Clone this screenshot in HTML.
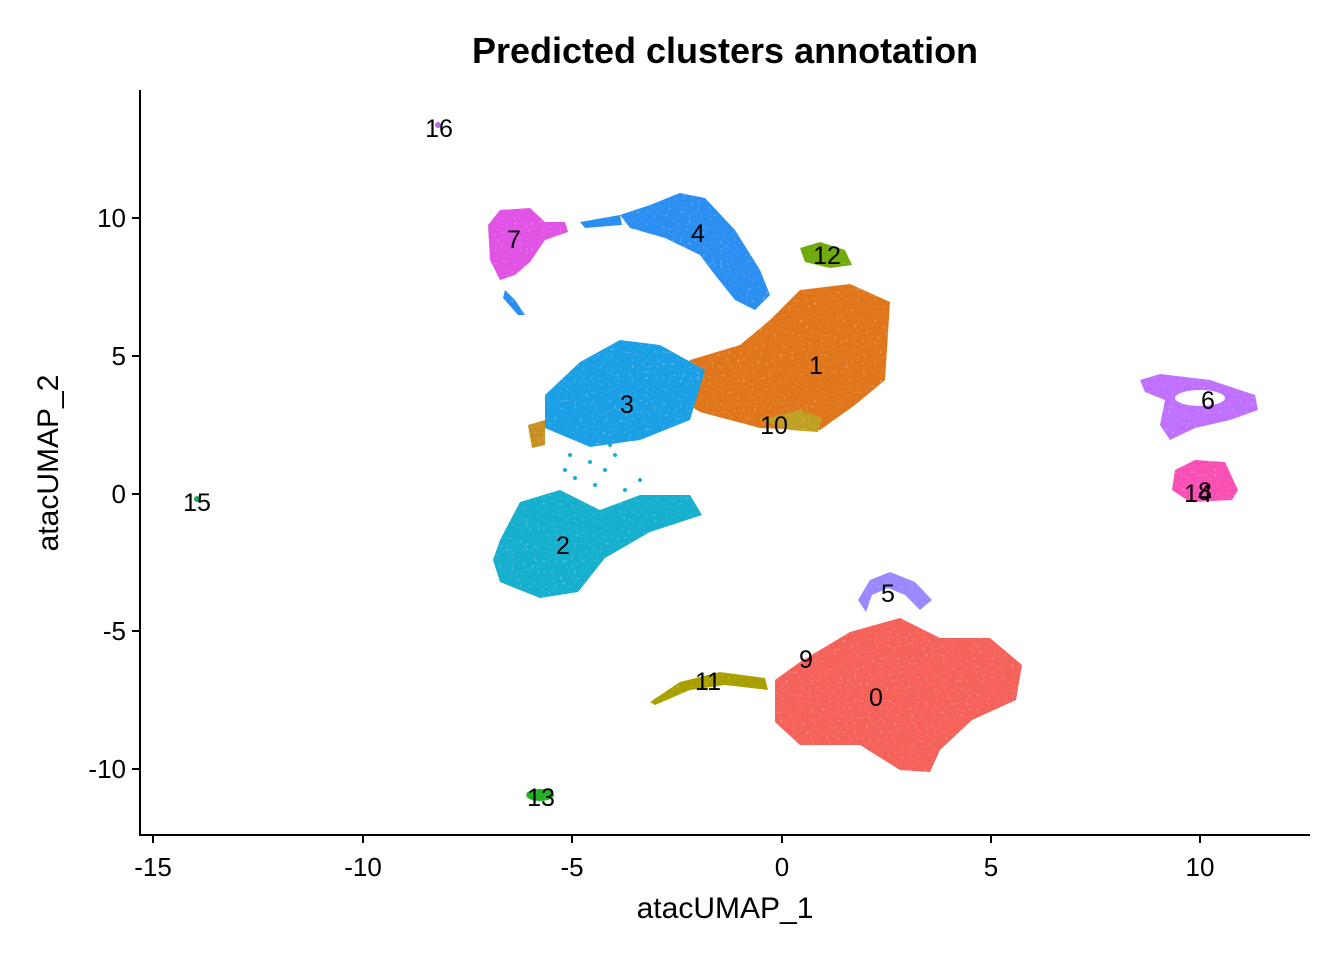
<!DOCTYPE html>
<html><head><meta charset="utf-8"><style>
html,body{margin:0;padding:0;background:#fff;}
svg{display:block;font-family:"Liberation Sans",Arial,sans-serif;}
</style></head><body>
<svg width="1344" height="960" viewBox="0 0 1344 960" xmlns="http://www.w3.org/2000/svg">
<defs>
<filter id="r"><feTurbulence type="fractalNoise" baseFrequency="0.35" numOctaves="1" seed="3"/><feColorMatrix values="0 0 0 0 0 0 0 0 0 0 0 0 0 0 0 0 0 0 -1.6 2.0"/><feComposite in="SourceGraphic" operator="in"/></filter>
</defs>
<text x="725" y="63" text-anchor="middle" font-size="36" font-weight="bold">Predicted clusters annotation</text>
<g filter="url(#r)" stroke-linejoin="round">
<path d="M620,215 L650,205 L680,193 L705,198 L735,230 L760,270 L770,295 L755,310 L735,300 L715,275 L700,255 L665,238 L630,228 Z" fill="#2A8FF0"/>
<path d="M580,222 L620,215 L622,225 L585,228Z" fill="#2A8FF0"/>
<path d="M488,225 L500,210 L530,208 L545,222 L565,222 L568,232 L545,240 L530,262 L515,275 L500,280 L490,260 Z" fill="#E052E5"/>
<path d="M505,290 L515,300 L525,315 L518,315 L503,298Z" fill="#2A8FF0"/>
<path d="M800,248 L820,242 L845,250 L852,265 L830,268 L805,262 Z" fill="#6FAA10"/>
<path d="M690,360 L740,345 L770,320 L800,290 L850,284 L890,302 L885,380 L855,405 L820,430 L760,428 L700,412 L668,392 Z" fill="#E0761A"/>
<path d="M545,395 L580,362 L620,340 L660,345 L705,370 L690,420 L640,440 L590,447 L545,428 Z" fill="#1FA0E5"/>
<path d="M528,425 L545,420 L545,445 L532,448Z" fill="#C89020"/>
<path d="M760,420 L800,410 L822,418 L818,432 L790,430Z" fill="#C0A020"/>
<path d="M500,540 L520,502 L560,490 L600,510 L640,495 L690,495 L702,515 L650,532 L605,558 L578,592 L540,598 L500,582 L493,560 Z" fill="#19B0CE"/>
<path d="M775,680 L800,662 L850,632 L900,618 L940,638 L990,638 L1022,665 L1016,700 L972,720 L940,750 L930,772 L900,770 L860,745 L800,745 L775,722 Z" fill="#F4625A"/>
<path d="M650,702 L680,682 L720,672 L765,678 L768,690 L725,685 L690,690 L655,705 Z" fill="#A9A000"/>
<path d="M858,600 L870,580 L890,572 L915,582 L932,600 L920,610 L905,595 L888,588 L872,595 L866,612 Z" fill="#9A88FF"/>
<path d="M1140,380 L1160,374 L1210,380 L1255,395 L1258,410 L1230,420 L1195,428 L1170,440 L1160,425 L1165,400 L1145,392 Z" fill="#C070FF"/>
<path d="M1175,470 L1195,460 L1225,462 L1238,490 L1232,500 L1190,502 L1172,490 Z" fill="#FA50B5"/>
<ellipse cx="540" cy="795" rx="14" ry="6" fill="#20B020"/>
<circle cx="197" cy="499" r="3" fill="#10B060"/>
<circle cx="438" cy="125" r="3" fill="#B070E0"/>
</g>
<g fill="#19B0CE">
<circle cx="570" cy="455" r="2"/><circle cx="590" cy="462" r="2"/><circle cx="605" cy="470" r="2"/><circle cx="575" cy="478" r="2"/><circle cx="615" cy="455" r="2"/><circle cx="595" cy="485" r="2"/><circle cx="565" cy="470" r="2"/><circle cx="625" cy="490" r="2"/><circle cx="640" cy="480" r="2"/><circle cx="610" cy="445" r="2"/>
</g>
<g fill="#fff">
<ellipse cx="1200" cy="398" rx="25" ry="8"/>
</g>
<path d="M140,90 L140,835 L1310,835" fill="none" stroke="#000" stroke-width="2"/>
<g stroke="#000" stroke-width="2">
<line x1="153" y1="835" x2="153" y2="843"/><line x1="363" y1="835" x2="363" y2="843"/><line x1="572" y1="835" x2="572" y2="843"/><line x1="782" y1="835" x2="782" y2="843"/><line x1="991" y1="835" x2="991" y2="843"/><line x1="1200" y1="835" x2="1200" y2="843"/>
<line x1="132" y1="218" x2="140" y2="218"/><line x1="132" y1="356" x2="140" y2="356"/><line x1="132" y1="494" x2="140" y2="494"/><line x1="132" y1="631" x2="140" y2="631"/><line x1="132" y1="769" x2="140" y2="769"/>
</g>
<g font-size="26" fill="#000" text-anchor="middle">
<text x="153" y="876">-15</text><text x="363" y="876">-10</text><text x="572" y="876">-5</text><text x="782" y="876">0</text><text x="991" y="876">5</text><text x="1200" y="876">10</text>
</g>
<g font-size="26" fill="#000" text-anchor="end">
<text x="126" y="227">10</text><text x="126" y="365">5</text><text x="126" y="503">0</text><text x="126" y="640">-5</text><text x="126" y="778">-10</text>
</g>
<text x="725" y="918" text-anchor="middle" font-size="30">atacUMAP_1</text>
<text transform="translate(58,463) rotate(-90)" text-anchor="middle" font-size="30">atacUMAP_2</text>
<g font-size="25" fill="#000" text-anchor="middle">
<text x="876" y="706">0</text><text x="816" y="374">1</text><text x="563" y="554">2</text><text x="627" y="413">3</text><text x="698" y="242">4</text><text x="888" y="602">5</text><text x="1208" y="409">6</text><text x="514" y="248">7</text><text x="1205" y="500">8</text><text x="806" y="668">9</text><text x="774" y="434">10</text><text x="708" y="690">11</text><text x="827" y="264">12</text><text x="541" y="806">13</text><text x="1198" y="502">14</text><text x="197" y="511">15</text><text x="439" y="137">16</text>
</g>
</svg>
</body></html>
